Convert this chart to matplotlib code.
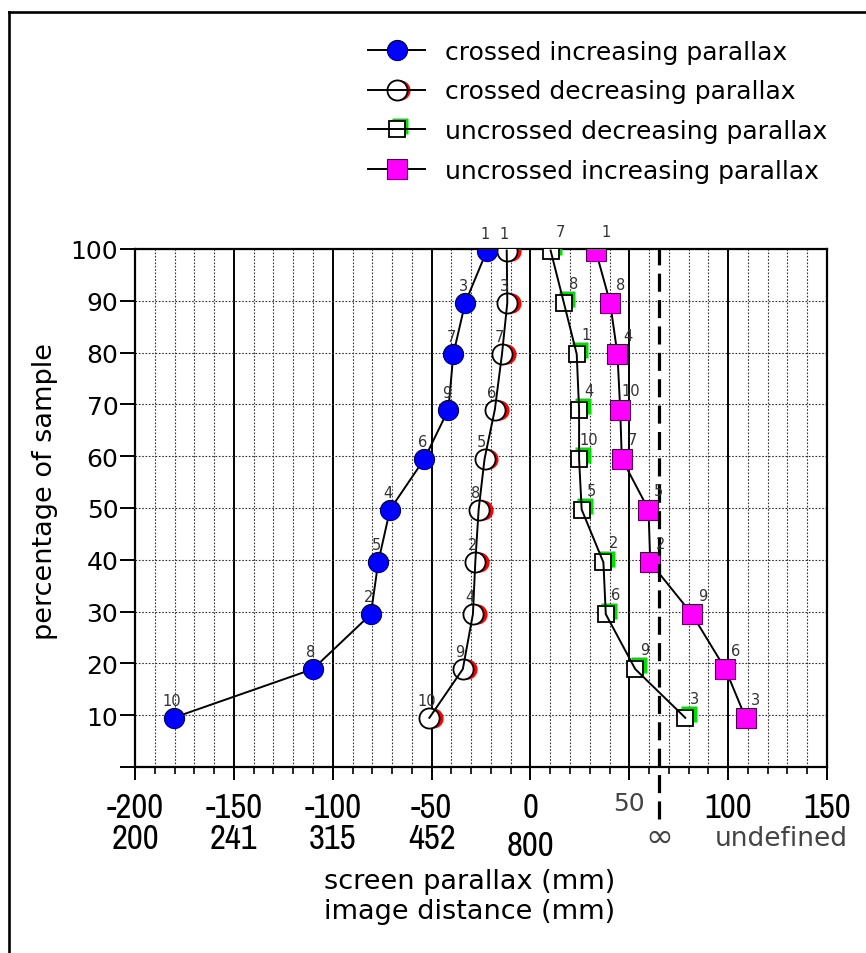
import matplotlib
matplotlib.use('Agg')
import matplotlib.pyplot as plt
from matplotlib.lines import Line2D
from matplotlib.legend_handler import HandlerBase
from matplotlib.transforms import ScaledTranslation
from matplotlib import font_manager

# y position (percentage of sample) shared by all four series
pct = [99.7, 89.6, 79.7, 69.0, 59.5, 49.7, 39.5, 29.5, 18.9, 9.5]

cross_inc_x = [-22, -33, -39, -41.5, -53.6, -71, -77, -80.7, -110, -180.5]
cross_inc_id = [1, 3, 7, 9, 6, 4, 5, 2, 8, 10]
cross_dec_x = [-12, -11.7, -14.4, -18, -23.2, -26.2, -27.9, -29.1, -34.2, -51.1]
cross_dec_id = [1, 3, 7, 6, 5, 8, 2, 4, 9, 10]
uncr_dec_x = [10.2, 16.9, 23.4, 24.6, 24.6, 25.9, 36.9, 38.1, 53.0, 78.3]
uncr_dec_id = [7, 8, 1, 4, 10, 5, 2, 6, 9, 3]
uncr_inc_x = [33.0, 40.3, 44.0, 45.4, 46.2, 59.7, 60.6, 81.7, 98.6, 108.8]
uncr_inc_id = [1, 8, 4, 10, 7, 5, 2, 9, 6, 3]

xtick_vals = [-200, -150, -100, -50, 0, 50, 100, 150]
xtick_text = ['-200', '-150', '-100', '-50', '0', '50', '100', '150']
dist_vals = [-200, -150, -100, -50, 0]
dist_text = ['200', '241', '315', '452', '800']
infinity_x = 65

# narrow font for the tick numbers if one is installed
narrow, stretch, narrow_size = 'DejaVu Sans', 'normal', 20
for f in font_manager.fontManager.ttflist:
    if 'Narrow' in f.name:
        narrow, stretch, narrow_size = f.name, 'normal', 25
        break
    if f.name == 'DejaVu Sans' and f.stretch == 'condensed':
        narrow, stretch, narrow_size = 'DejaVu Sans', 'condensed', 23

plt.rcParams['font.family'] = ['DejaVu Sans']
plt.rcParams['lines.scale_dashes'] = False

fig = plt.figure(figsize=(8.66, 9.54), dpi=100)
ax = fig.add_axes([0.1559, 0.1950, 0.7991, 0.5430])
ax.set_xlim(-200, 150)
ax.set_ylim(0, 100)


def shifted(dx, dy):
    return ax.transData + ScaledTranslation(dx / 72, dy / 72, fig.dpi_scale_trans)


# crossed increasing: blue filled circles
ax.plot(cross_inc_x, pct, color='k', lw=1.4, marker='o', ms=14.5,
        mfc='#0000ff', mec='#000050', mew=0.8, zorder=4)
# crossed decreasing: red circle behind an open black circle
ax.plot(cross_dec_x, pct, ls='none', marker='o', ms=14.5, mfc='#ff0000',
        mec='none', transform=shifted(2.8, 0), zorder=3)
ax.plot(cross_dec_x, pct, ls='none', marker='o', ms=14.5, mfc='white',
        mec='k', mew=1.3, zorder=3.5)
ax.plot(cross_dec_x, pct, color='k', lw=1.4, zorder=4)
# uncrossed decreasing: green square behind an open black square
ax.plot(uncr_dec_x, pct, ls='none', marker='s', ms=12, mfc='#00e000',
        mec='none', transform=shifted(2.6, 2.6), zorder=3)
ax.plot(uncr_dec_x, pct, ls='none', marker='s', ms=12, mfc='white',
        mec='k', mew=1.3, zorder=3.5)
ax.plot(uncr_dec_x, pct, color='k', lw=1.4, zorder=4)
# uncrossed increasing: magenta squares
ax.plot(uncr_inc_x, pct, color='k', lw=1.4, marker='s', ms=14.5,
        mfc='#ff00ff', mec='#500050', mew=0.8, zorder=4)

# subject numbers next to each point
for xs, ids, off in [(cross_inc_x, cross_inc_id, (-1.5, 12.5)),
                     (cross_dec_x, cross_dec_id, (-2, 12.5)),
                     (uncr_dec_x, uncr_dec_id, (7, 14)),
                     (uncr_inc_x, uncr_inc_id, (7.5, 13.5))]:
    for x, y, n in zip(xs, pct, ids):
        ax.annotate(str(n), (x, y), xytext=off, textcoords='offset points',
                    ha='center', va='center', fontsize=10.5, color='#333333',
                    zorder=6)

# parallax at infinity (eye separation)
ax.plot([infinity_x, infinity_x], [-10, 100], color='k', lw=2.3,
        ls=(0, (13, 6)), clip_on=False, zorder=5)

# axes, ticks, grid
ax.set_xticks(xtick_vals)
ax.set_xticks(range(-200, 151, 10), minor=True)
ax.set_xticklabels(xtick_text)
ax.set_yticks(range(0, 101, 10))
ax.set_yticklabels([''] + [str(v) for v in range(10, 101, 10)])
ax.set_axisbelow(True)
ax.grid(True, axis='x', which='major', color='k', ls='-', lw=1.4)
ax.grid(True, axis='x', which='minor', color='#333333', ls=(0, (1.2, 1.2)), lw=0.8)
ax.grid(True, axis='y', which='major', color='#333333', ls=(0, (1.2, 1.2)), lw=0.8)
for s in ax.spines.values():
    s.set_linewidth(1.6)
ax.tick_params(axis='x', which='major', length=9.4, width=1.4, pad=8)
ax.tick_params(axis='x', which='minor', length=5, width=1.2)
ax.tick_params(axis='y', which='major', length=10.5, width=1.4, pad=1.5,
               labelsize=18)
for lbl in ax.get_xticklabels():
    if lbl.get_text() == '50':
        lbl.set_fontsize(18)
        lbl.set_color('#444444')
    else:
        lbl.set_fontfamily(narrow)
        lbl.set_fontstretch(stretch)
        lbl.set_fontsize(narrow_size)

# image distance row
for x, t in zip(dist_vals, dist_text):
    dy = -56 if t == '800' else -51.5
    ax.annotate(t, (x, 0), xycoords=('data', 'axes fraction'), xytext=(0, dy),
                textcoords='offset points', ha='center', va='center',
                fontfamily=narrow, fontstretch=stretch, fontsize=narrow_size)
ax.annotate('\u221e', (infinity_x, 0), xycoords=('data', 'axes fraction'),
            xytext=(0, -50), textcoords='offset points', ha='center',
            va='center', fontsize=24, color='#444444')
ax.annotate('undefined', (127, 0), xycoords=('data', 'axes fraction'),
            xytext=(0, -51.5), textcoords='offset points', ha='center',
            va='center', fontsize=19, color='#444444')

fig.text(470 / 866, 1 - 882 / 954, 'screen parallax (mm)', ha='center',
         va='center', fontsize=19.5)
fig.text(470 / 866, 1 - 912 / 954, 'image distance (mm)', ha='center',
         va='center', fontsize=19.5)
fig.text(45 / 866, 1 - 492 / 954, 'percentage of sample', ha='center',
         va='center', rotation=90, fontsize=19.5)


# legend with offset double markers
class PairHandler(HandlerBase):
    def __init__(self, front, back=None, shift=(0, 0)):
        super().__init__()
        self.front = front
        self.back = back
        self.shift = shift

    def create_artists(self, legend, orig_handle, xdescent, ydescent,
                       width, height, fontsize, trans):
        y = (height - ydescent) / 2
        x0, x1 = -xdescent, width - xdescent
        xc = (x0 + x1) / 2
        line = Line2D([x0, x1], [y, y], color='k', lw=1.4)
        front = Line2D([xc], [y], ls='none', **self.front)
        if self.back is None:
            arts = [line, front]
        else:
            back = Line2D([xc + self.shift[0]], [y + self.shift[1]], ls='none',
                          **self.back)
            arts = [back, front, line]
        for a in arts:
            a.set_transform(trans)
        return arts


h1, h2, h3, h4 = [Line2D([], []) for _ in range(4)]
hmap = {
    h1: PairHandler(dict(marker='o', ms=14.5, mfc='#0000ff', mec='#000050', mew=0.8)),
    h2: PairHandler(dict(marker='o', ms=14.5, mfc='white', mec='k', mew=1.3),
                    dict(marker='o', ms=14.5, mfc='#ff0000', mec='none'), (2.8, 0)),
    h3: PairHandler(dict(marker='s', ms=12, mfc='white', mec='k', mew=1.3),
                    dict(marker='s', ms=12, mfc='#00e000', mec='none'), (2.6, 2.6)),
    h4: PairHandler(dict(marker='s', ms=14.5, mfc='#ff00ff', mec='#500050', mew=0.8)),
}
fig.legend([h1, h2, h3, h4],
           ['crossed increasing parallax', 'crossed decreasing parallax',
            'uncrossed decreasing parallax', 'uncrossed increasing parallax'],
           handler_map=hmap, loc='upper left',
           bbox_to_anchor=(368 / 866, 1 - 41 / 954), frameon=False,
           borderpad=0, borderaxespad=0, fontsize=18, handlelength=2.28,
           handletextpad=0.8, labelspacing=0.62)

# page frame (left and top edges)
fig.add_artist(Line2D([9 / 866, 9 / 866], [0, 1 - 13 / 954], color='k', lw=1.9,
                      transform=fig.transFigure))
fig.add_artist(Line2D([9 / 866, 1], [1 - 13 / 954, 1 - 13 / 954], color='k',
                      lw=1.9, transform=fig.transFigure))

fig.savefig('out.png', dpi=100)
